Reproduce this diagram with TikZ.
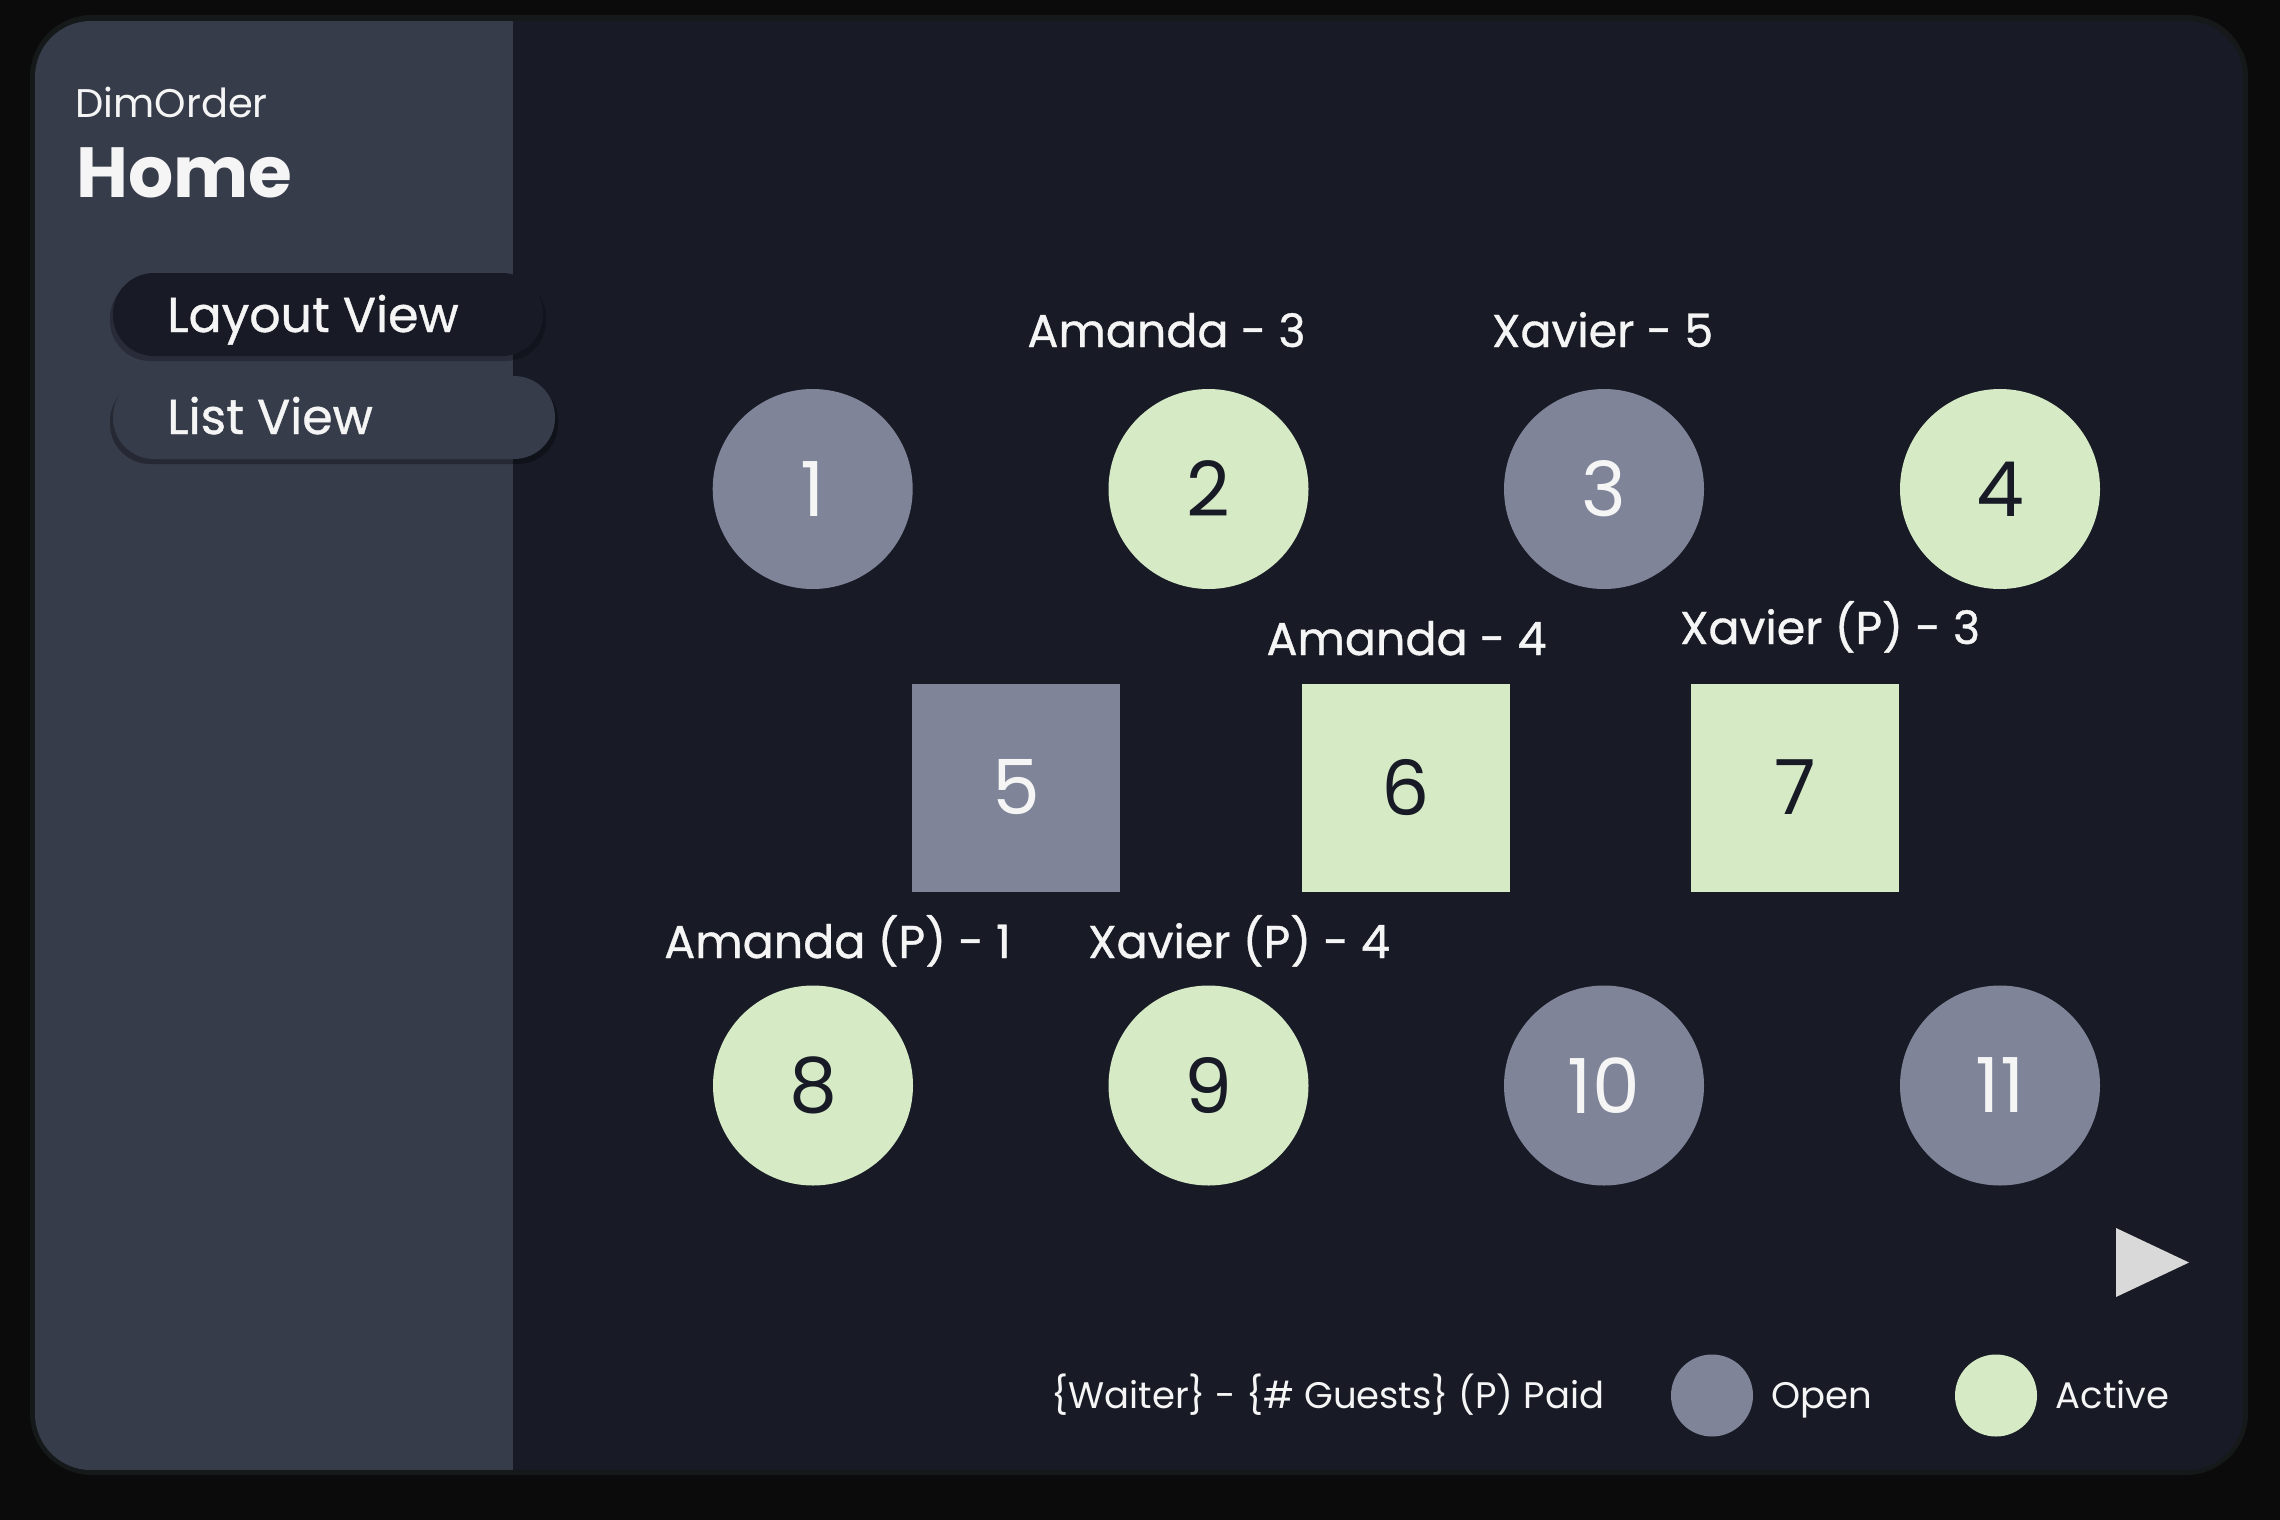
\documentclass[tikz,border=0pt]{standalone}
\usepackage{fontspec}
\setmainfont{Poppins}
\newfontfamily\semifont{Poppins}[FakeBold=0.8]
\usepackage{tikz}

\definecolor{pagebg}{HTML}{0B0B0B}
\definecolor{rim}{HTML}{151919}
\definecolor{mainbg}{HTML}{181B26}
\definecolor{sidebg}{HTML}{373C4B}
\definecolor{openc}{HTML}{7F8499}
\definecolor{activec}{HTML}{D5EAC5}
\definecolor{txtw}{HTML}{F4F5F4}
\definecolor{playc}{HTML}{D9D9D9}

\tikzset{
  opentbl/.style={circle,fill=openc,text=txtw,minimum size=100pt,inner sep=0pt,font=\fontsize{38}{38}\selectfont},
  activetbl/.style={circle,fill=activec,text=mainbg,minimum size=100pt,inner sep=0pt,font=\fontsize{38}{38}\selectfont},
  opensq/.style={rectangle,fill=openc,text=txtw,minimum size=104pt,inner sep=0pt,font=\fontsize{38}{38}\selectfont},
  activesq/.style={rectangle,fill=activec,text=mainbg,minimum size=104pt,inner sep=0pt,font=\fontsize{38}{38}\selectfont},
  waiter/.style={text=txtw,inner sep=0pt,anchor=base,font=\semifont\fontsize{23}{23}\selectfont},
  legtxt/.style={text=txtw,inner sep=0pt,anchor=base west,font=\fontsize{18.5}{18.5}\selectfont},
  navtxt/.style={text=txtw,inner sep=0pt,anchor=base west,font=\semifont\fontsize{24.5}{24.5}\selectfont},
}

\begin{document}
\begin{tikzpicture}[x=0.5pt,y=0.5pt,yscale=-1,xscale=1]
\useasboundingbox (0,0) rectangle (2280,1520);

%Shape: Rectangle
\fill [pagebg] (0,0) rectangle (2280,1520);
%Shape: Rounded Rect
\fill [rim,rounded corners=31pt] (30,15) rectangle (2248,1475);
%Shape: Rounded Rect
\fill [mainbg,rounded corners=28pt] (35,21) rectangle (2243,1470);
%Shape: Sidebar
\begin{scope}
\clip [rounded corners=28pt] (35,21) rectangle (2243,1470);
\fill [sidebg] (35,21) rectangle (513,1470);
\end{scope}

%Shape: Pill shadows
\fill [black,opacity=0.25,rounded corners=20pt] (110,278) rectangle (546,361);
\fill [black,opacity=0.3,rounded corners=20pt] (110,381) rectangle (558,464);
%Shape: Pill
\fill [mainbg,rounded corners=20.5pt] (113,273) rectangle (543,356);
%Shape: Pill
\fill [sidebg,rounded corners=20.5pt] (113,376) rectangle (555,459);

% Text Node
\draw (75,118) node (brand) [text=txtw,inner sep=0pt,anchor=base west,font=\fontsize{20}{20}\selectfont] {DimOrder};
% Text Node
\draw (76,197) node (title) [text=txtw,inner sep=0pt,anchor=base west,font=\fontsize{35.5}{35.5}\selectfont\bfseries] {Home};
% Text Node
\draw (167,332) node (layoutv) [navtxt] {Layout View};
% Text Node
\draw (167,434) node (listv) [navtxt] {List View};

%Shape: Circle
\draw (812.7,489) node (t1) [opentbl] {1};
%Shape: Circle
\draw (1208.5,489) node (t2) [activetbl] {2};
%Shape: Circle
\draw (1604,489) node (t3) [opentbl] {3};
%Shape: Circle
\draw (2000,489) node (t4) [activetbl] {4};
%Shape: Square
\draw (1016,787.5) node (t5) [opensq] {5};
%Shape: Square
\draw (1405.8,787.5) node (t6) [activesq] {6};
%Shape: Square
\draw (1795,787.5) node (t7) [activesq] {7};
%Shape: Circle
\draw (813,1085.5) node (t8) [activetbl] {8};
%Shape: Circle
\draw (1208.5,1085.5) node (t9) [activetbl] {9};
%Shape: Circle
\draw (1604,1085.5) node (t10) [opentbl] {10};
%Shape: Circle
\draw (2000,1085.5) node (t11) [opentbl] {11};

% Text Node
\draw (1166.5,347) node (w2) [waiter] {Amanda - 3};
% Text Node
\draw (1602.5,347) node (w3) [waiter] {Xavier - 5};
% Text Node
\draw (1406.5,655) node (w6) [waiter] {Amanda - 4};
% Text Node
\draw (1830,644) node (w7) [waiter] {Xavier (P) - 3};
% Text Node
\draw (837.5,958) node (w8) [waiter] {Amanda (P) - 1};
% Text Node
\draw (1239,958) node (w9) [waiter] {Xavier (P) - 4};

%Shape: Triangle
\fill [playc] (2116,1228) -- (2116,1297) -- (2189,1262.5) -- cycle;

% Text Node
\draw (1051,1408) node (key) [legtxt] {\{Waiter\} - \{\# Guests\} (P) Paid};
%Shape: Circle
\draw (1712,1395.5) node (lgopen) [circle,fill=openc,minimum size=41pt,inner sep=0pt] {};
% Text Node
\draw (1771,1408) node (lgopentxt) [legtxt] {Open};
%Shape: Circle
\draw (1996,1395.5) node (lgactive) [circle,fill=activec,minimum size=41pt,inner sep=0pt] {};
% Text Node
\draw (2055.5,1408) node (lgactivetxt) [legtxt] {Active};

\end{tikzpicture}
\end{document}
